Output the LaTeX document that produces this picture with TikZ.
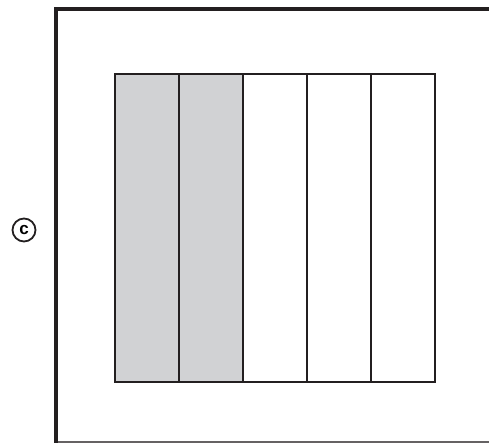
\documentclass[tikz,border=0pt]{standalone}
\usepackage{fontspec}
\setsansfont{Liberation Sans}
\usepackage{tikz}
\definecolor{shade}{HTML}{D1D2D4}
\definecolor{ink}{HTML}{231F20}
\tikzset{
  frame/.style={draw=ink, line width=4pt},
  col/.style={draw=ink, line width=1.8pt, minimum width=64pt, minimum height=308pt, inner sep=0pt, anchor=north west},
  shaded/.style={fill=shade},
  base/.style={draw=ink!70, line width=1.2pt}
}
\begin{document}
\begin{tikzpicture}[x=1pt,y=-1pt]
\useasboundingbox (0,0) rectangle (489,443);
\coordinate (tr) at (489,9);
\coordinate (tl) at (56,9);
\coordinate (bl) at (56,443);
\coordinate (br) at (489,442);
\coordinate (bl2) at (56,442);
\draw[base] (bl2) -- (br);
\draw[frame, line cap=rect] (tr) -- (tl) -- (bl);
\node[col, shaded] (c1) at (114,73) {};
\node[col, shaded] (c2) at (178,73) {};
\node[col] (c3) at (242,73) {};
\node[col] (c4) at (306,73) {};
\node[col] (c5) at (370,73) {};
\node[circle, draw=ink, line width=1.8pt, minimum size=23pt, inner sep=0pt, font=\sffamily\bfseries\fontsize{17}{17}\selectfont] (cr) at (24,230) {c};
\end{tikzpicture}
\end{document}
